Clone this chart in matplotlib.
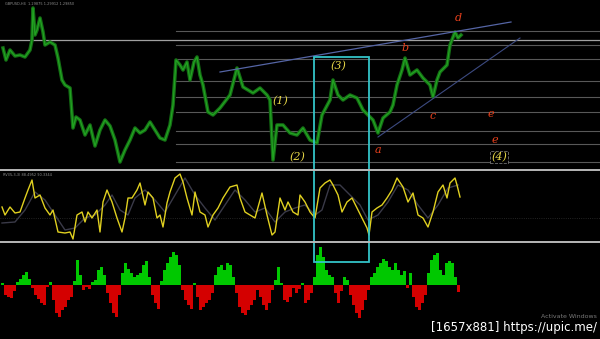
import numpy as np
import matplotlib
matplotlib.use('Agg')
from matplotlib import pyplot as plt
from matplotlib.patches import Rectangle
from matplotlib.lines import Line2D
from matplotlib.transforms import blended_transform_factory

# price path (bar, level)
price_x = [3, 6, 10, 15, 20, 25, 30, 32, 33, 35, 37, 40, 43, 45, 50, 55, 58, 62, 65, 70,
           73, 76, 80, 85, 90, 95, 100, 105, 110, 115, 120, 125, 130, 135, 140, 145, 150, 155, 160, 165,
           170, 173, 176, 180, 183, 187, 190, 194, 197, 200, 203, 208, 213, 220, 230, 237, 243, 253, 260, 267,
           270, 273, 277, 283, 290, 297, 303, 310, 317, 322, 330, 333, 338, 343, 350, 357, 363, 368, 373, 378,
           383, 390, 393, 397, 402, 405, 410, 417, 423, 430, 433, 437, 440, 447, 450, 455, 458, 461]
price_y = [122, 110, 120, 114, 115, 113, 120, 130, 162, 135, 140, 152, 138, 125, 128, 125, 112, 90, 85, 82,
           42, 53, 50, 35, 45, 24, 40, 50, 44, 30, 8, 20, 30, 42, 37, 40, 48, 40, 32, 30,
           45, 65, 110, 105, 100, 108, 90, 108, 113, 95, 85, 58, 55, 62, 75, 102, 83, 77, 82, 75,
           70, 10, 45, 45, 37, 35, 42, 30, 27, 55, 70, 90, 75, 70, 75, 72, 60, 55, 50, 37,
           52, 58, 65, 85, 100, 112, 95, 100, 92, 85, 73, 90, 98, 105, 125, 138, 132, 135]

levels = [139, 125, 111, 89, 73, 58, 39, 26, 8]
main_level = 130

# oscillator (fast / signal)
osc_x = [2, 5, 10, 15, 20, 25, 28, 32, 35, 40, 45, 50, 53, 58, 65, 70, 73, 77, 82, 85,
         88, 92, 97, 100, 103, 107, 112, 117, 122, 125, 128, 132, 137, 140, 145, 148, 153, 157, 160, 163,
         167, 170, 175, 180, 183, 187, 192, 195, 200, 205, 208, 213, 218, 223, 230, 237, 240, 245, 250, 255,
         262, 267, 272, 275, 280, 285, 288, 293, 298, 300, 305, 310, 315, 320, 325, 330, 333, 338, 342, 347,
         352, 357, 362, 367, 369, 372, 377, 382, 387, 392, 397, 403, 408, 413, 418, 423, 428, 433, 438, 443,
         447, 450, 455, 457, 460]
osc_y = [33, 25, 33, 27, 28, 42, 50, 60, 42, 45, 32, 25, 30, 8, 7, 8, 1, 25, 28, 18,
         28, 22, 30, 8, 38, 50, 38, 22, 8, 22, 42, 42, 50, 57, 35, 48, 42, 22, 25, 13,
         37, 48, 62, 66, 58, 42, 25, 48, 28, 25, 13, 25, 32, 42, 53, 55, 42, 28, 25, 22,
         47, 25, 5, 8, 42, 30, 38, 28, 25, 45, 38, 28, 22, 52, 57, 60, 55, 45, 28, 38,
         42, 32, 22, 12, 5, 28, 32, 35, 42, 50, 62, 53, 38, 47, 25, 22, 13, 28, 48, 55,
         42, 57, 62, 55, 43]
sig_x = [2, 15, 25, 35, 45, 55, 65, 75, 85, 95, 105, 112, 120, 128, 135, 145, 155, 165, 175, 185,
         195, 205, 215, 225, 235, 245, 255, 265, 275, 285, 295, 305, 315, 322, 330, 340, 350, 360, 368, 378,
         388, 398, 408, 418, 428, 438, 448, 458]
sig_y = [17, 18, 30, 48, 40, 25, 10, 12, 22, 25, 35, 45, 30, 25, 42, 50, 40, 28, 45, 62,
         45, 32, 20, 35, 50, 40, 28, 32, 18, 28, 32, 35, 25, 30, 55, 55, 45, 35, 20, 25,
         38, 55, 50, 35, 22, 35, 52, 55]

# histogram, one bar every 3 chart bars starting at bar 2
hist_vals = [2, -10, -12, -13, -6, 3, 6, 10, 13, 6, -3, -10, -14, -18, -20, -2, 3, -15, -28, -32,
             -25, -22, -15, -12, 4, 25, 10, -5, -2, -4, 3, 5, 15, 18, 10, -8, -18, -28, -32, -10,
             12, 22, 16, 12, 8, 10, 12, 20, 24, 8, -10, -18, -24, 4, 15, 22, 28, 33, 30, 20,
             -5, -15, -20, -24, 2, -12, -25, -22, -18, -15, -8, 10, 18, 20, 15, 22, 20, 8, -8, -22,
             -28, -30, -25, -20, -15, -5, -12, -20, -25, -18, -5, 5, 18, 2, -15, -17, -12, -3, -8, -4,
             2, -18, -15, -8, 8, 30, 38, 28, 15, 10, 8, -8, -18, -6, 8, 5, -10, -20, -28, -33,
             -25, -15, -5, 8, 12, 18, 22, 26, 24, 18, 15, 22, 15, 10, 14, -3, 12, -12, -22, -25,
             -18, -10, 12, 25, 30, 32, 15, 10, 22, 24, 22, 8, -7]
hist_x = 2 + 3 * np.arange(len(hist_vals))

# wave labels: (text, bar, level, colour)
wave_labels = [('(1)', 280, 69, '#e8d848'), ('(2)', 297, 13, '#e8d848'), ('(3)', 338, 104, '#e8d848'),
               ('(4)', 499, 13, '#e8d848'),
               ('a', 378, 20, '#e8401c'), ('b', 405, 122, '#e8401c'), ('c', 433, 54, '#e8401c'),
               ('d', 458, 152, '#e8401c'), ('e', 491, 56, '#e8401c'), ('e', 495, 30, '#e8401c')]

W, H = 600, 339
fig = plt.figure(figsize=(6, 3.39), dpi=100, facecolor='black')

def px_axes(top, bottom):
    a = fig.add_axes([0, 1 - bottom / H, 1, (bottom - top) / H])
    a.set_facecolor('black')
    a.set_xlim(0, 600)
    a.axis('off')
    return a

ax = px_axes(0, 168)
ax.set_ylim(2, 170)
ax2 = px_axes(172, 240)
ax2.set_ylim(0, 68)
ax3 = px_axes(244, 339)
ax3.set_ylim(-54, 41)

# price panel
for lv in levels:
    ax.plot([176, 600], [lv, lv], color='#585858', lw=0.8)
ax.axhline(main_level, color='#a0a0a0', lw=0.9)
ax.plot(price_x, price_y, color='#146e14', lw=2.6)
ax.plot(price_x, price_y, color='#22a322', lw=0.9)
ax.plot([220, 511], [98, 148], color='#5565a5', lw=0.9)
ax.plot([378, 520], [33, 132], color='#3c4a80', lw=0.8)
for txt, bx, lv, col in wave_labels:
    kw = dict(color=col, fontsize=8, family='DejaVu Serif', style='italic', ha='center', va='center')
    if txt == '(4)':
        kw['bbox'] = dict(facecolor='black', edgecolor='#707070', lw=0.6, ls='--', pad=1)
    ax.text(bx, lv, txt, **kw)
ax.text(5, 166, 'GBPUSD,H4  1.29875 1.29912 1.29850', color='#909090', fontsize=2.5, va='center')

# oscillator panel
ax2.axhline(22, color='#303030', lw=0.6, ls=':')
ax2.plot(sig_x, sig_y, color='#3a3a48', lw=1.0)
ax2.plot(osc_x, osc_y, color='#e0d020', lw=1.0)
ax2.text(3, 65, 'RVI(5,3,3) 88.4952 90.3344', color='#909090', fontsize=2.5, va='center')

# histogram panel
cols = ['#00c800' if v >= 0 else '#d40000' for v in hist_vals]
ax3.bar(hist_x, hist_vals, width=3, color=cols, align='center')

# separators
for yp in [170, 242]:
    fig.add_artist(Line2D([0, 1], [1 - yp / H] * 2, transform=fig.transFigure, color='#b8b8b8', lw=1.4))

# highlight box across panels
tr = blended_transform_factory(ax.transData, fig.transFigure)
fig.add_artist(Rectangle((314, 1 - 262 / H), 55, (262 - 57) / H, transform=tr,
                         fill=False, edgecolor='#33c4c8', lw=1.3))

fig.text(597 / W, 1 - 317 / H, 'Activate Windows', color='#7a7a7a', fontsize=4.5, ha='right', va='center')
fig.text(597 / W, 1 - 328 / H, '[1657x881] https://upic.me/', color='white', fontsize=8.5, ha='right', va='center')

fig.savefig('out.png', dpi=100, facecolor='black')
